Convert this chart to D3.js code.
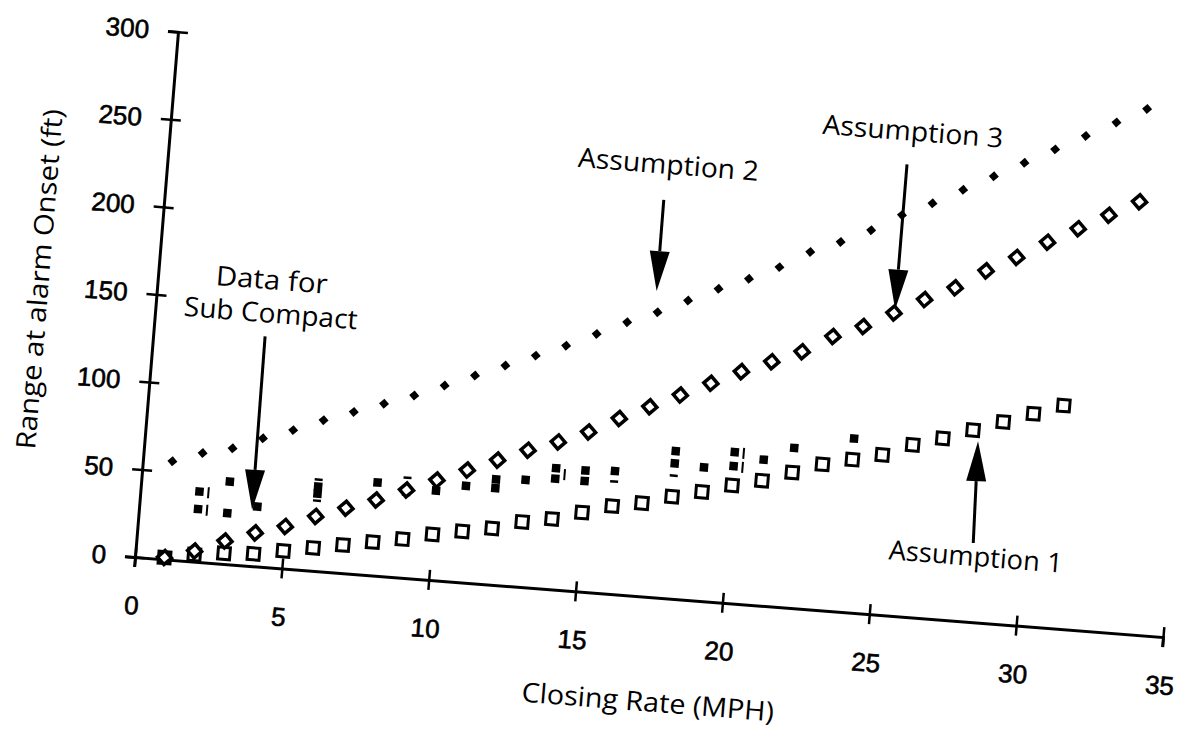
<!DOCTYPE html>
<html>
<head>
<meta charset="utf-8">
<script src="https://cdn.jsdelivr.net/npm/d3@7"></script>
<style>
  html, body { margin: 0; padding: 0; background: #fff; }
  svg { display: block; }
  .note { font-family: "Open Sans", "Noto Sans", sans-serif; font-size: 27px; fill: #000; }
</style>
</head>
<body>
<div id="chart"></div>
<script>
// data ++++++++++++++++++++++++++
const xTicks = [0, 5, 10, 15, 20, 25, 30, 35];
const yTicks = [0, 50, 100, 150, 200, 250, 300];

// Assumption 1 (open squares): [closing rate, range]
const assumption1 = [
  [1, 1], [2, 4], [3, 6], [4, 7], [5, 10], [6, 13], [7, 16], [8, 19], [9, 22], [10, 26],
  [11, 29], [12, 32], [13, 37], [14, 40], [15, 45], [16, 50], [17, 53], [18, 58], [19, 62], [20, 67],
  [21, 71], [22, 77], [23, 83], [24, 87], [25, 91], [26, 98], [27, 103], [28, 109], [29, 115], [30, 121],
  [31, 127]
];

// Assumption 2 (small filled diamonds)
const assumption2 = [
  [1, 56], [2, 62], [3, 66], [4, 73], [5, 79], [6, 86], [7, 92], [8, 98], [9, 104], [10, 111],
  [11, 118], [12, 125], [13, 132], [14, 139], [15, 147], [16, 155], [17, 162], [18, 170], [19, 178], [20, 185],
  [21, 193], [22, 203], [23, 210], [24, 218], [25, 228], [26, 236], [27, 245], [28, 254], [29, 263], [30, 272],
  [31, 281], [32, 290], [33, 299]
];

// Assumption 3 (open diamonds)
const assumption3 = [
  [1, 1], [2, 6], [3, 13], [4, 19], [5, 24], [6, 31], [7, 37], [8, 43], [9, 50], [10, 57],
  [11, 64], [12, 71], [13, 78], [14, 84], [15, 91], [16, 100], [17, 108], [18, 116], [19, 124], [20, 132],
  [21, 139], [22, 146], [23, 156], [24, 163], [25, 172], [26, 181], [27, 189], [28, 200], [29, 209], [30, 219],
  [31, 228], [32, 237], [33, 246]
];

// Data for Sub Compact (small filled squares)
const subCompact = [
  [2, 40], [2, 30], [3, 47], [3, 29], [4, 34], [6, 48], [6, 44], [8, 53], [9, 49], [10, 51],
  [11, 55], [12, 60], [12, 55], [13, 61], [14, 69], [14, 63], [15, 69], [15, 63], [16, 70],
  [18, 84], [18, 77], [19, 76], [20, 86], [20, 78], [21, 83], [22, 91], [24, 99]
];
// little marks printed beside some sub compact points
const subCompactBars = [[2, 40], [2, 30], [14, 66], [20, 86], [20, 78]];
const subCompactDashes = [[6, 52], [6, 40], [9, 57], [16, 64], [18, 70]];
// data ----------------------------------------------

const width = 1179;
const height = 734;

const svg = d3.select("#chart")
  .append("svg")
  .attr("width", width)
  .attr("height", height);

// the page was scanned tilted, so the whole plot lives in one tilted frame
const frame = svg.append("g")
  .attr("transform", "matrix(0.9971,0.0776,-0.0816,0.9966,135,557)");

const x = d3.scaleLinear().domain([0, 35]).range([0, 1031]);
const y = d3.scaleLinear().domain([0, 300]).range([0, -527]);

// axes
const xAxis = frame.append("g")
  .call(d3.axisBottom(x).tickValues(xTicks).tickSizeOuter(0).tickSize(10).tickPadding(29));
const yAxis = frame.append("g")
  .call(d3.axisLeft(y).tickValues(yTicks).tickSizeOuter(0).tickSize(10).tickPadding(19));

[xAxis, yAxis].forEach(ax => {
  ax.attr("font-family", "'Liberation Sans', Arial, sans-serif").attr("font-size", 26);
  ax.select(".domain").attr("stroke", "#000").attr("stroke-width", 3);
  ax.selectAll(".tick line").attr("stroke", "#000").attr("stroke-width", 2.5);
  ax.selectAll(".tick text")
    .attr("fill", "#000")
    .attr("stroke", "#000")
    .attr("stroke-width", 0.6);
});
xAxis.selectAll(".tick line").attr("y1", -10).attr("y2", 10);
yAxis.selectAll(".tick line").attr("x1", -10).attr("x2", 10);

// axis titles
frame.append("text")
  .attr("class", "note")
  .attr("transform", `translate(${x(17.75)},${-y(65)})`)
  .attr("text-anchor", "middle")
  .attr("textLength", 253)
  .attr("lengthAdjust", "spacingAndGlyphs")
  .text("Closing Rate (MPH)");

frame.append("text")
  .attr("class", "note")
  .attr("transform", `translate(${x(-3.68)},${y(153.5)}) rotate(-90)`)
  .attr("text-anchor", "middle")
  .attr("textLength", 341)
  .attr("lengthAdjust", "spacingAndGlyphs")
  .text("Range at alarm Onset (ft)");

const place = d => `translate(${x(d[0])},${y(d[1])})`;

// Assumption 1
frame.append("g").selectAll("path")
  .data(assumption1)
  .join("path")
  .attr("transform", place)
  .attr("d", d3.symbol(d3.symbolSquare, 144))
  .attr("fill", "#fff")
  .attr("stroke", "#000")
  .attr("stroke-width", 3);

// Sub Compact
frame.append("g").selectAll("path")
  .data(subCompact)
  .join("path")
  .attr("transform", place)
  .attr("d", d3.symbol(d3.symbolSquare, 72))
  .attr("fill", "#000");

frame.append("g").selectAll("line")
  .data(subCompactBars)
  .join("line")
  .attr("x1", d => x(d[0]) + 9).attr("x2", d => x(d[0]) + 9)
  .attr("y1", d => y(d[1]) - 5).attr("y2", d => y(d[1]) + 6)
  .attr("stroke", "#000").attr("stroke-width", 2);

frame.append("g").selectAll("line")
  .data(subCompactDashes)
  .join("line")
  .attr("x1", d => x(d[0]) - 4).attr("x2", d => x(d[0]) + 4)
  .attr("y1", d => y(d[1])).attr("y2", d => y(d[1]))
  .attr("stroke", "#000").attr("stroke-width", 2.5);

// Assumption 3
frame.append("g").selectAll("path")
  .data(assumption3)
  .join("path")
  .attr("transform", d => place(d) + " rotate(45)")
  .attr("d", d3.symbol(d3.symbolSquare, 100))
  .attr("fill", "#fff")
  .attr("stroke", "#000")
  .attr("stroke-width", 3.5);

// Assumption 2
frame.append("g").selectAll("path")
  .data(assumption2)
  .join("path")
  .attr("transform", d => place(d) + " rotate(45)")
  .attr("d", d3.symbol(d3.symbolSquare, 50))
  .attr("fill", "#000");

// annotations +++++++++++++++++++++++++++++++++++++
const notes = [
  { text: "Data for", at: [3.86, 158], len: 112 },
  { text: "Sub Compact", at: [3.92, 139], len: 174 },
  { text: "Assumption 2", at: [16.96, 241], len: 181 },
  { text: "Assumption 3", at: [25.14, 270.6], len: 181 },
  { text: "Assumption 1", at: [28.44, 32], len: 174 }
];
const arrows = [
  { from: [3.79, 131], to: [3.83, 32] },
  { from: [16.9, 226], to: [16.91, 174] },
  { from: [25.03, 257], to: [25.03, 174] },
  { from: [28.32, 45], to: [28.2, 103] }
];

frame.append("g").selectAll("text")
  .data(notes)
  .join("text")
  .attr("class", "note")
  .attr("x", d => x(d.at[0]))
  .attr("y", d => y(d.at[1]))
  .attr("text-anchor", "middle")
  .attr("textLength", d => d.len)
  .attr("lengthAdjust", "spacingAndGlyphs")
  .text(d => d.text);

function drawArrow(a) {
  const x0 = x(a.from[0]), y0 = y(a.from[1]);
  const x1 = x(a.to[0]), y1 = y(a.to[1]);
  const len = Math.hypot(x1 - x0, y1 - y0);
  const ux = (x1 - x0) / len, uy = (y1 - y0) / len;
  const headLen = 40, headHalf = 10;
  const bx = x1 - ux * headLen, by = y1 - uy * headLen;
  const g = frame.append("g");
  g.append("line")
    .attr("x1", x0).attr("y1", y0)
    .attr("x2", bx).attr("y2", by)
    .attr("stroke", "#000").attr("stroke-width", 3);
  g.append("path")
    .attr("d", `M${x1},${y1}L${bx - uy * headHalf},${by + ux * headHalf}L${bx + uy * headHalf},${by - ux * headHalf}Z`)
    .attr("fill", "#000");
}
arrows.forEach(drawArrow);
// annotations ---------------------------------------
</script>
</body>
</html>
